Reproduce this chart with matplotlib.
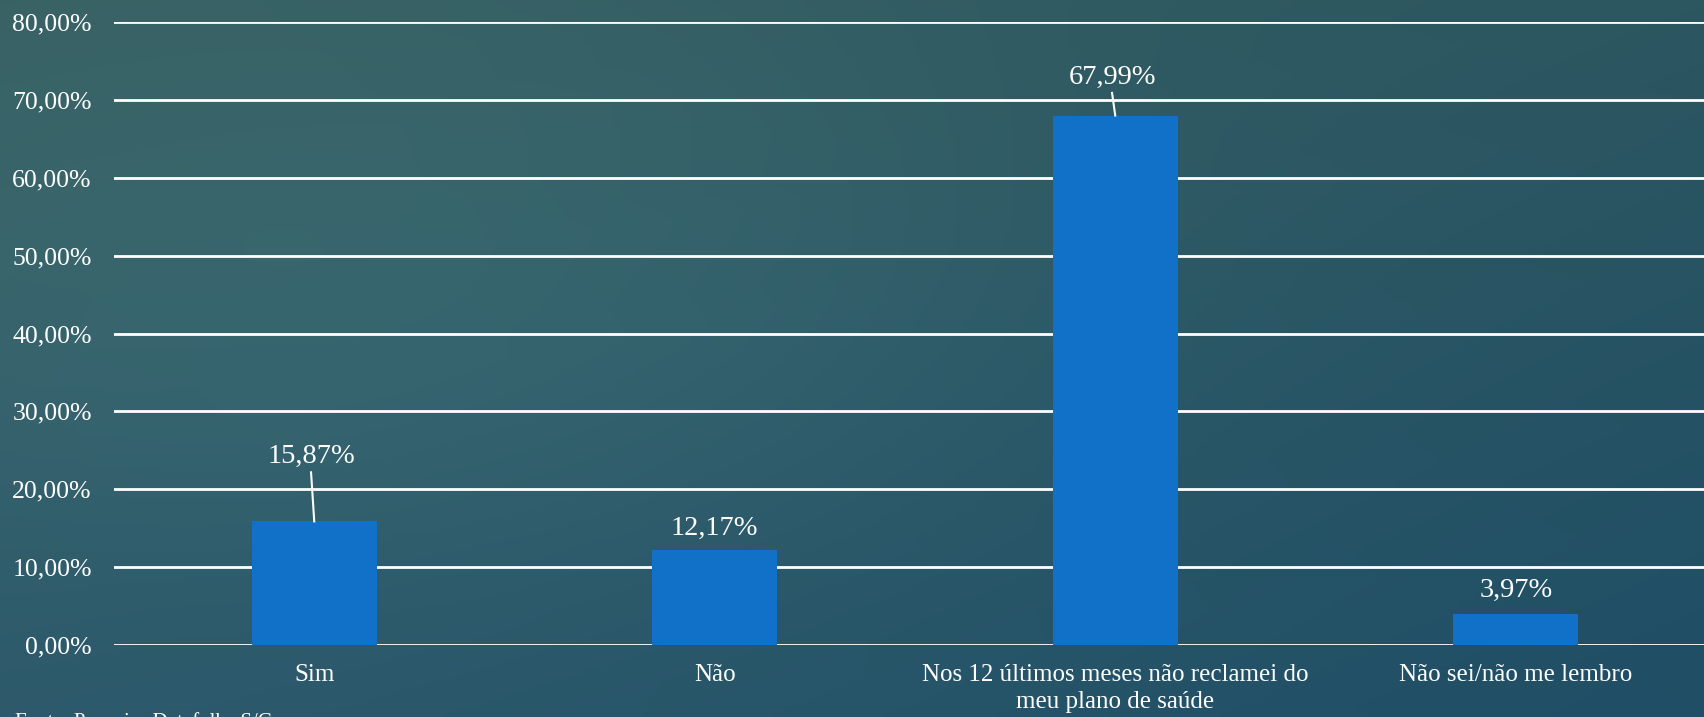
import numpy as np
import matplotlib.pyplot as plt
from matplotlib.ticker import FuncFormatter

# Survey answers and share of respondents (%)
categories = ["Sim", "Não",
              "Nos 12 últimos meses não reclamei do\nmeu plano de saúde",
              "Não sei/não me lembro"]
shares = [15.87, 12.17, 67.99, 3.97]
y_ticks = [0, 10, 20, 30, 40, 50, 60, 70, 80]
source_note = "Fonte: Pesquisa Datafolha S/C"

plt.rcParams['font.family'] = ['Liberation Serif', 'DejaVu Serif']

fig = plt.figure(figsize=(17.04, 7.17), dpi=100)

# slide-style background: corner colours blended across the figure
bg = fig.add_axes([0, 0, 1, 1], zorder=0)
tl = np.array([54, 94, 97]) / 255
tr = np.array([44, 86, 96]) / 255
bl = np.array([44, 88, 106]) / 255
br = np.array([31, 78, 102]) / 255
u = np.linspace(0, 1, 400)[None, :, None]
v = np.linspace(0, 1, 200)[:, None, None]
grad = (1 - v) * ((1 - u) * tl + u * tr) + v * ((1 - u) * bl + u * br)
# a lighter patch on the left middle
yy, xx = np.mgrid[0:200, 0:400]
glow = np.exp(-(((xx - 90) / 160) ** 2 + ((yy - 80) / 90) ** 2))[:, :, None]
grad = np.clip(grad + glow * np.array([8, 12, 10]) / 255, 0, 1)
bg.imshow(grad, aspect='auto', extent=[0, 1, 0, 1], origin='upper')
bg.set_xlim(0, 1)
bg.set_ylim(0, 1)
bg.axis('off')

ax = fig.add_axes([114 / 1704, 1 - 645 / 717, 1 - 114 / 1704, (645 - 22) / 717], zorder=1)
ax.patch.set_alpha(0)

x = np.arange(len(categories))
ax.bar(x, shares, width=0.312, color='#1170c8', zorder=3)

ax.set_ylim(0, 80)
ax.set_xlim(-0.5, 3.47)
ax.set_yticks(y_ticks)
ax.yaxis.set_major_formatter(FuncFormatter(lambda val, _: f"{val:.2f}%".replace('.', ',')))
ax.set_xticks(x)
ax.set_xticklabels(categories, fontsize=18, color='white', linespacing=1.28)
ax.tick_params(axis='y', labelsize=18.5, colors='white', length=0, pad=16)
ax.tick_params(axis='x', length=0, pad=14)
ax.grid(axis='y', color='white', linewidth=2, zorder=1)
for s in ax.spines.values():
    s.set_visible(False)

# value labels: (label x shift, baseline height above the bar, leader?)
label_pos = [(-0.006, 7.5, True), (0, 2.0, False), (-0.008, 4.1, True), (0, 2.2, False)]
for i, val in enumerate(shares):
    txt = f"{val:.2f}%".replace('.', ',')
    dx, dy, leader = label_pos[i]
    ax.text(i + dx, val + dy, txt, ha='center', va='baseline', fontsize=20.5, color='white')
    if leader:
        ax.plot([i - 0.008, i], [val + dy - 1.2, val], color='white', lw=1.5, zorder=4)

fig.text(15 / 1704, 1 - 712 / 717, source_note, ha='left', va='top',
         fontsize=15, color='white')

fig.savefig('out.png', dpi=100)
